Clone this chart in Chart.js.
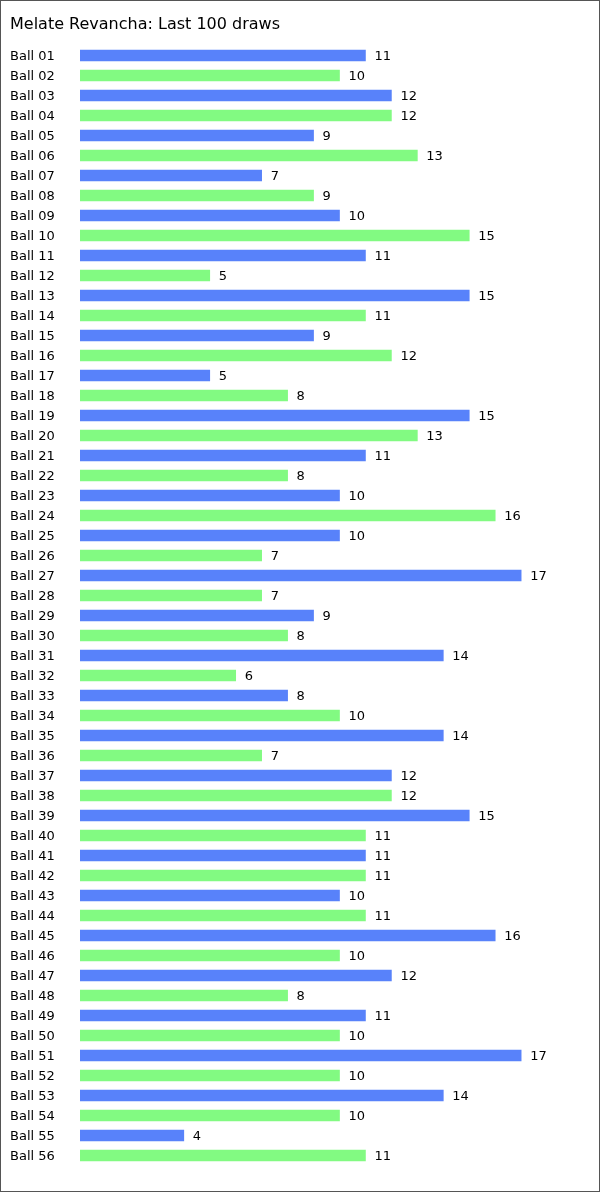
<!DOCTYPE html>
<html>
<head>
<meta charset="utf-8">
<script src="https://cdn.jsdelivr.net/npm/chart.js@4"></script>
<style>
  body { margin: 0; background: #fff; }
  canvas { display: block; }
</style>
</head>
<body>
<canvas id="ballChart" width="600" height="1192"></canvas>
<script>
const titulo = 'Melate Revancha: Last 100 draws';

const bolas = ['Ball 01', 'Ball 02', 'Ball 03', 'Ball 04', 'Ball 05', 'Ball 06', 'Ball 07', 'Ball 08',
    'Ball 09', 'Ball 10', 'Ball 11', 'Ball 12', 'Ball 13', 'Ball 14', 'Ball 15', 'Ball 16',
    'Ball 17', 'Ball 18', 'Ball 19', 'Ball 20', 'Ball 21', 'Ball 22', 'Ball 23', 'Ball 24',
    'Ball 25', 'Ball 26', 'Ball 27', 'Ball 28', 'Ball 29', 'Ball 30', 'Ball 31', 'Ball 32',
    'Ball 33', 'Ball 34', 'Ball 35', 'Ball 36', 'Ball 37', 'Ball 38', 'Ball 39', 'Ball 40',
    'Ball 41', 'Ball 42', 'Ball 43', 'Ball 44', 'Ball 45', 'Ball 46', 'Ball 47', 'Ball 48',
    'Ball 49', 'Ball 50', 'Ball 51', 'Ball 52', 'Ball 53', 'Ball 54', 'Ball 55', 'Ball 56'];

const vezes = [11, 10, 12, 12, 9, 13, 7, 9,
    10, 15, 11, 5, 15, 11, 9, 12,
    5, 8, 15, 13, 11, 8, 10, 16,
    10, 7, 17, 7, 9, 8, 14, 6,
    8, 10, 14, 7, 12, 12, 15, 11,
    11, 11, 10, 11, 16, 10, 12, 8,
    11, 10, 17, 10, 14, 10, 4, 11];

const corAzul = '#5882fa';
const corVerde = '#82fa82';
const fonte = '"DejaVu Sans", Verdana, sans-serif';

// numeros no fim de cada barra + moldura
const rotulos = {
    id: 'rotulos',
    afterDatasetsDraw(chart) {
        const c = chart.ctx;
        const meta = chart.getDatasetMeta(0);
        c.save();
        c.font = '13px ' + fonte;
        c.fillStyle = '#000';
        c.textBaseline = 'middle';
        meta.data.forEach((bar, i) => {
            c.fillText(String(vezes[i]), bar.x + 9, bar.y + 1);
        });
        c.restore();
    },
    afterDraw(chart) {
        const c = chart.ctx;
        c.save();
        c.strokeStyle = '#555';
        c.lineWidth = 1;
        c.strokeRect(0.5, 0.5, chart.width - 1, chart.height - 1);
        c.restore();
    }
};

const ctx = document.querySelector('#ballChart');

new Chart(ctx, {
    type: 'bar',
    data: {
        labels: bolas,
        datasets: [{
            data: vezes,
            backgroundColor: vezes.map((v, i) => i % 2 == 0 ? corAzul : corVerde),
            barThickness: 11,
            borderWidth: 0
        }]
    },
    options: {
        indexAxis: 'y',
        responsive: false,
        animation: false,
        layout: { padding: { left: 10, right: 1, top: 0, bottom: 26.5 } },
        plugins: {
            legend: { display: false },
            tooltip: { enabled: false },
            title: {
                display: true,
                text: titulo,
                align: 'start',
                color: '#000',
                font: { family: fonte, size: 16, weight: 'normal', lineHeight: 1.2 },
                padding: { top: 15, bottom: 11.3 }
            }
        },
        scales: {
            x: { display: false, min: 0, max: 20 },
            y: {
                grid: { display: false, drawTicks: false },
                border: { display: false },
                ticks: {
                    crossAlign: 'far',
                    color: '#000',
                    padding: 0,
                    labelOffset: 1,
                    autoSkip: false,
                    font: { family: fonte, size: 13 }
                },
                afterFit(axis) { axis.width = 70; }
            }
        }
    },
    plugins: [rotulos]
});
</script>
</body>
</html>
